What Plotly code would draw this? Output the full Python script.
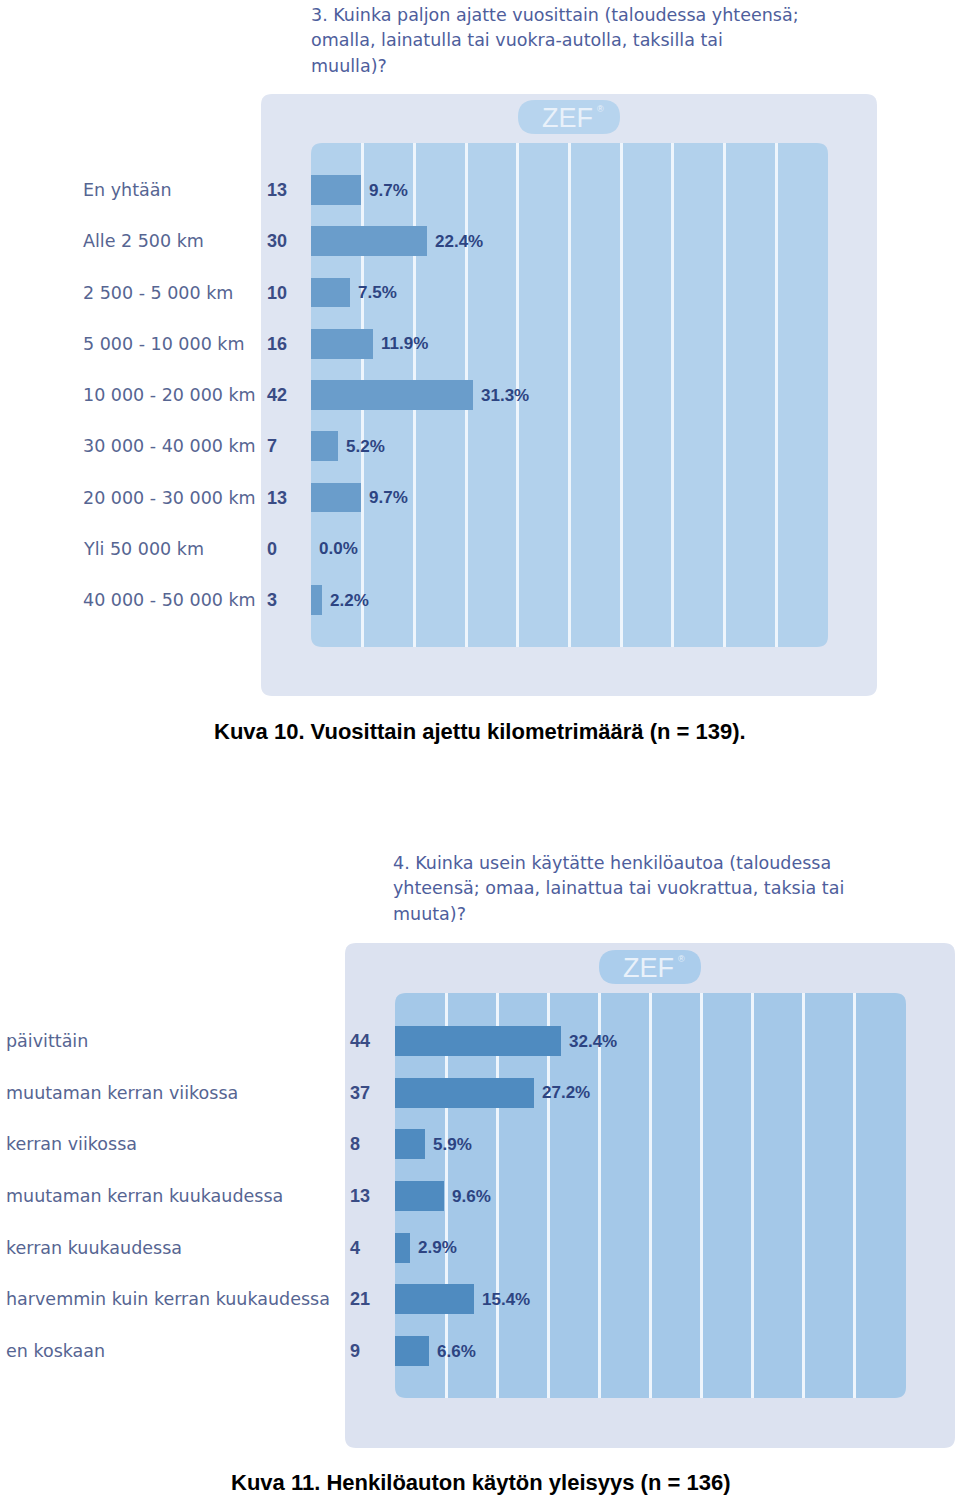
import plotly.graph_objects as go

# ---------------- data ----------------
title1_lines = ["3. Kuinka paljon ajatte vuosittain (taloudessa yhteensä;",
                "omalla, lainatulla tai vuokra-autolla, taksilla tai",
                "muulla)?"]
cats1 = ["En yhtään", "Alle 2 500 km", "2 500 - 5 000 km", "5 000 - 10 000 km",
         "10 000 - 20 000 km", "30 000 - 40 000 km", "20 000 - 30 000 km",
         "Yli 50 000 km", "40 000 - 50 000 km"]
counts1 = [13, 30, 10, 16, 42, 7, 13, 0, 3]
pct1 = [9.7, 22.4, 7.5, 11.9, 31.3, 5.2, 9.7, 0.0, 2.2]
caption1 = "Kuva 10. Vuosittain ajettu kilometrimäärä (n = 139)."

title2_lines = ["4. Kuinka usein käytätte henkilöautoa (taloudessa",
                "yhteensä; omaa, lainattua tai vuokrattua, taksia tai",
                "muuta)?"]
cats2 = ["päivittäin", "muutaman kerran viikossa", "kerran viikossa",
         "muutaman kerran kuukaudessa", "kerran kuukaudessa",
         "harvemmin kuin kerran kuukaudessa", "en koskaan"]
counts2 = [44, 37, 8, 13, 4, 21, 9]
pct2 = [32.4, 27.2, 5.9, 9.6, 2.9, 15.4, 6.6]
caption2 = "Kuva 11. Henkilöauton käytön yleisyys (n = 136)"

grid_ticks = [10, 20, 30, 40, 50, 60, 70, 80, 90]

# ---------------- helpers ----------------
W, H = 960, 1498
def px(x): return x / W
def py(y): return 1 - y / H

def rrect(x0, y0, x1, y1, r):
    pts = [("M", [(x0 + r, y0)]), ("L", [(x1 - r, y0)]), ("Q", [(x1, y0), (x1, y0 + r)]),
           ("L", [(x1, y1 - r)]), ("Q", [(x1, y1), (x1 - r, y1)]),
           ("L", [(x0 + r, y1)]), ("Q", [(x0, y1), (x0, y1 - r)]),
           ("L", [(x0, y0 + r)]), ("Q", [(x0, y0), (x0 + r, y0)])]
    s = ""
    for cmd, ps in pts:
        s += cmd + " " + " ".join(f"{px(a):.5f},{py(b):.5f}" for a, b in ps) + " "
    return s + "Z"

LABEL_FONT = "DejaVu Sans"
BOLD_FONT = "Liberation Sans, Arial"
label_col = "#566592"
count_col = "#3a4c85"
pct_col = "#2d4482"
title_col = "#4e5e9c"

fig = go.Figure()

shapes = []
annotations = []

def build(cats, counts, pct, titles, title_x, title_ys, caption, cap_y,
          outer, inner, badge_c, bar_col, outer_col, inner_col, badge_col,
          label_x, count_x, ax, ay, row0, rowstep):
    # panels
    shapes.append(dict(type="path", xref="paper", yref="paper", path=rrect(*outer, 11),
                       fillcolor=outer_col, line=dict(width=0), layer="below"))
    shapes.append(dict(type="path", xref="paper", yref="paper", path=rrect(*inner, 11),
                       fillcolor=inner_col, line=dict(width=0), layer="below"))
    bx, by = badge_c
    shapes.append(dict(type="path", xref="paper", yref="paper",
                       path=rrect(bx - 51, by - 17, bx + 51, by + 17, 17),
                       fillcolor=badge_col, line=dict(width=0), layer="below"))
    annotations.append(dict(xref="paper", yref="paper", x=px(bx - 2), y=py(by + 1),
                            xanchor="center", yanchor="middle",
                            text="ZEF", showarrow=False,
                            font=dict(family=BOLD_FONT, size=27, color="#e9f1fa")))
    annotations.append(dict(xref="paper", yref="paper", x=px(bx + 26), y=py(by - 8),
                            xanchor="left", yanchor="middle",
                            text="®", showarrow=False,
                            font=dict(family=BOLD_FONT, size=9, color="#e9f1fa")))
    # titles
    for t, ty in zip(titles, title_ys):
        annotations.append(dict(xref="paper", yref="paper", x=px(title_x), y=py(ty),
                                xanchor="left", yanchor="middle", text=t, showarrow=False,
                                font=dict(family=LABEL_FONT, size=17.5, color=title_col)))
    annotations.append(dict(xref="paper", yref="paper", x=0.5, y=py(cap_y),
                            xanchor="center", yanchor="middle", text="<b>" + caption + "</b>",
                            showarrow=False,
                            font=dict(family=BOLD_FONT, size=22, color="#000000")))
    # axes
    x0, y0, x1, y1 = inner
    ph = y1 - y0
    top_pad = (row0 - y0) / rowstep
    span = ph / rowstep
    xa = "xaxis" if ax == "x" else "xaxis" + ax[1:]
    ya = "yaxis" if ay == "y" else "yaxis" + ay[1:]
    fig.update_layout(**{
        xa: dict(domain=[px(x0), px(x1)], range=[0, 100], tickvals=grid_ticks,
                 showticklabels=False, showgrid=True, gridcolor="#eef5fc", gridwidth=3,
                 zeroline=False, showline=False, ticks="", anchor=ay, fixedrange=True),
        ya: dict(domain=[py(y1), py(y0)], type="category", categoryarray=cats,
                 range=[span - top_pad, -top_pad], showticklabels=False, showgrid=False,
                 zeroline=False, showline=False, ticks="", anchor=ax, fixedrange=True),
    })
    fig.add_trace(go.Bar(x=pct, y=cats, orientation="h", xaxis=ax, yaxis=ay,
                         marker=dict(color=bar_col, line=dict(width=0)), width=0.585,
                         hoverinfo="skip", showlegend=False))
    for c, k, p in zip(cats, counts, pct):
        annotations.append(dict(xref="paper", yref=ay, x=px(label_x), y=c, xanchor="left",
                                yanchor="middle", text=c, showarrow=False,
                                font=dict(family=LABEL_FONT, size=17.5, color=label_col)))
        annotations.append(dict(xref="paper", yref=ay, x=px(count_x), y=c, xanchor="left",
                                yanchor="middle", text=f"<b>{k}</b>", showarrow=False,
                                font=dict(family=BOLD_FONT, size=18, color=count_col)))
        annotations.append(dict(xref=ax, yref=ay, x=p, y=c, xanchor="left", xshift=6,
                                yanchor="middle", text=f"<b>{p:.1f}%</b>", showarrow=False,
                                font=dict(family=BOLD_FONT, size=17, color=pct_col)))

build(cats1, counts1, pct1, title1_lines, 309, [15, 40, 66], caption1, 731,
      (261, 94, 877, 696), (311, 143, 828, 647), (569, 117),
      "#6a9dcb", "#dfe5f2", "#b2d1ec", "#b7d4ee",
      81, 265, "x", "y", 190, 51.25)

build(cats2, counts2, pct2, title2_lines, 391, [863, 888, 914], caption2, 1482,
      (345, 943, 955, 1448), (395, 993, 906, 1398), (650, 967),
      "#4f8bc0", "#dce2f0", "#a4c8e8", "#abcdec",
      4, 348, "x2", "y2", 1041, 51.67)

fig.update_layout(width=W, height=H, margin=dict(l=0, r=0, t=0, b=0),
                  paper_bgcolor="white", plot_bgcolor="rgba(0,0,0,0)",
                  shapes=shapes, annotations=annotations, showlegend=False,
                  bargap=0)

fig.write_html("out.html", config={"displayModeBar": False, "staticPlot": True},
               post_script="document.body.style.margin='0';document.body.style.padding='0';"
                           "document.documentElement.style.overflow='hidden';")
